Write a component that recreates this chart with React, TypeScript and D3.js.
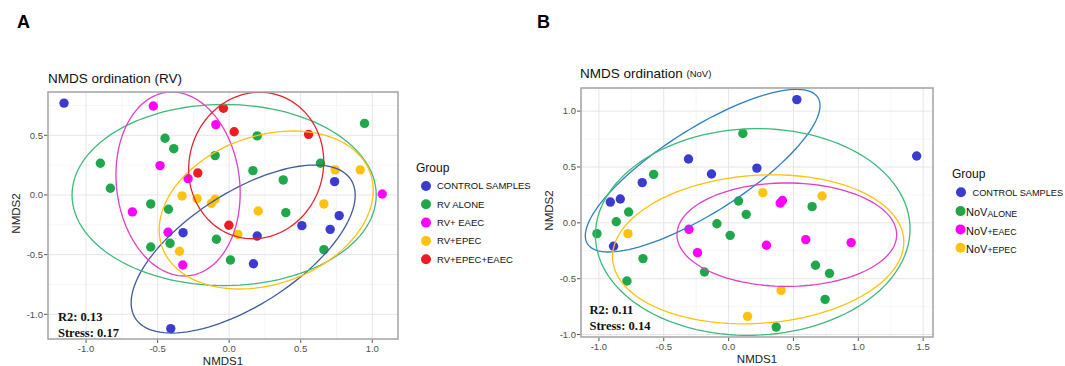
import { useEffect, useRef } from "react";
import * as d3 from "d3";

// groups and colours
const rvGroups = ["CONTROL SAMPLES", "RV ALONE", "RV+ EAEC", "RV+EPEC", "RV+EPEC+EAEC"];
const rvColors = ["#3B3BD0", "#1FA84B", "#FF00FF", "#FFC20E", "#EC1C24"];
const rvEllipseColors = ["#3E5B9C", "#3DBA7A", "#E23FC7", "#FFC20E", "#E3262E"];

const novGroups = [
    { main: "CONTROL SAMPLES", sub: "" },
    { main: "NoV", sub: "ALONE" },
    { main: "NoV", sub: "+EAEC" },
    { main: "NoV", sub: "+EPEC" },
];
const novColors = ["#3B3BD0", "#1FA84B", "#FF00FF", "#FFC20E"];
const novEllipseColors = ["#2A80C2", "#3DBA7A", "#E23FC7", "#FFC20E"];

// [NMDS1, NMDS2, group]
const rvPoints: [number, number, number][] = [
    [-1.154, 0.77, 0], [0.737, 0.112, 0], [0.769, -0.173, 0], [0.508, -0.257, 0], [0.706, -0.288, 0],
    [0.196, -0.344, 0], [-0.322, -0.316, 0], [0.17, -0.576, 0], [-0.408, -1.12, 0],
    [0.196, 0.495, 1], [0.946, 0.6, 1], [-0.448, 0.475, 1], [-0.387, 0.388, 1], [-0.9, 0.266, 1],
    [-0.098, 0.33, 1], [0.166, 0.204, 1], [0.378, 0.126, 1], [0.638, 0.266, 1], [-0.83, 0.056, 1],
    [-0.548, -0.075, 1], [-0.424, -0.12, 1], [0.396, -0.148, 1], [-0.089, -0.371, 1], [-0.413, -0.405, 1],
    [-0.548, -0.436, 1], [0.009, -0.545, 1], [0.662, -0.458, 1],
    [-0.53, 0.746, 2], [-0.093, 0.59, 2], [-0.483, 0.246, 2], [-0.287, 0.137, 2], [1.07, 0.008, 2],
    [-0.676, -0.142, 2], [-0.427, -0.313, 2], [-0.324, -0.587, 2],
    [0.741, 0.21, 3], [0.916, 0.21, 3], [-0.329, -0.008, 3], [-0.224, -0.031, 3], [-0.124, -0.07, 3],
    [-0.098, -0.036, 3], [0.203, -0.134, 3], [0.662, -0.075, 3], [0.061, -0.33, 3], [-0.347, -0.472, 3],
    [-0.04, 0.727, 4], [0.035, 0.53, 4], [0.555, 0.508, 4], [-0.219, 0.184, 4], [-0.002, -0.254, 4],
];

const novPoints: [number, number, number][] = [
    [0.526, 1.103, 0], [1.45, 0.598, 0], [-0.309, 0.571, 0], [-0.132, 0.437, 0], [0.218, 0.49, 0],
    [-0.666, 0.36, 0], [-0.912, 0.186, 0], [-0.835, 0.213, 0], [-0.887, -0.21, 0],
    [0.11, 0.8, 1], [-0.578, 0.434, 1], [-0.771, 0.097, 1], [-0.866, 0.01, 1], [0.644, 0.145, 1],
    [0.077, 0.195, 1], [0.136, 0.076, 1], [-0.09, -0.008, 1], [-1.015, -0.097, 1], [-0.66, -0.32, 1],
    [-0.784, -0.521, 1], [-0.186, -0.44, 1], [0.012, -0.112, 1], [0.67, -0.38, 1], [0.778, -0.452, 1],
    [0.744, -0.685, 1], [0.367, -0.933, 1],
    [0.398, 0.177, 2], [0.415, 0.2, 2], [-0.306, -0.058, 2], [-0.24, -0.267, 2], [0.292, -0.201, 2],
    [0.595, -0.15, 2], [0.945, -0.177, 2],
    [0.264, 0.27, 3], [0.721, 0.24, 3], [-0.776, -0.097, 3], [0.405, -0.604, 3], [0.146, -0.837, 3],
];

// ellipses: [centre x, centre y, half width, half height, correlation]
const rvEllipses: [number, number, number, number, number][] = [
    [0.098, -0.453, 0.783, 0.704, 0.64],
    [-0.035, 0.0, 1.063, 0.759, 0],
    [-0.357, 0.092, 0.434, 0.771, -0.1],
    [0.259, -0.126, 0.748, 0.662, 0.25],
    [0.189, 0.247, 0.472, 0.614, 0.05],
];
const novEllipses: [number, number, number, number, number][] = [
    [-0.2, 0.467, 0.905, 0.728, 0.8],
    [0.186, -0.082, 1.213, 0.925, 0.03],
    [0.449, -0.106, 0.847, 0.463, 0],
    [0.228, -0.237, 1.123, 0.667, 0.1],
];

const rvXTicks = [-1.0, -0.5, 0.0, 0.5, 1.0];
const rvYTicks = [-1.0, -0.5, 0.0, 0.5];
const novXTicks = [-1.0, -0.5, 0.0, 0.5, 1.0, 1.5];
const novYTicks = [-1.0, -0.5, 0.0, 0.5, 1.0];

const SANS = "Liberation Sans, Arial, sans-serif";
const SERIF = "Liberation Serif, Times New Roman, serif";

function minorTicks(major, domain) {
    const step = major[1] - major[0];
    const out = [];
    for (let v = major[0] - step / 2; v <= major[major.length - 1] + step / 2 + 1e-9; v += step) {
        if (v > domain[0] && v < domain[1]) out.push(v);
    }
    return out;
}

function drawPanel(svg, opt) {
    const { box, xDomain, yDomain, xTicks, yTicks, points, ellipses, colors, ellipseColors } = opt;

    const x = d3.scaleLinear().domain(xDomain).range([box.left, box.left + box.width]);
    const y = d3.scaleLinear().domain(yDomain).range([box.top + box.height, box.top]);

    const g = svg.append("g");
    const clipId = `clip-${opt.id}`;
    g.append("clipPath").attr("id", clipId)
        .append("rect")
        .attr("x", box.left).attr("y", box.top)
        .attr("width", box.width).attr("height", box.height);

    g.append("rect")
        .attr("x", box.left).attr("y", box.top)
        .attr("width", box.width).attr("height", box.height)
        .attr("fill", "#fff");

    // grid
    const grid = g.append("g");
    minorTicks(xTicks, xDomain).forEach((v) => {
        grid.append("line").attr("x1", x(v)).attr("x2", x(v))
            .attr("y1", box.top).attr("y2", box.top + box.height)
            .attr("stroke", "#F4F4F4").attr("stroke-width", 0.8);
    });
    minorTicks(yTicks, yDomain).forEach((v) => {
        grid.append("line").attr("y1", y(v)).attr("y2", y(v))
            .attr("x1", box.left).attr("x2", box.left + box.width)
            .attr("stroke", "#F4F4F4").attr("stroke-width", 0.8);
    });
    xTicks.forEach((v) => {
        grid.append("line").attr("x1", x(v)).attr("x2", x(v))
            .attr("y1", box.top).attr("y2", box.top + box.height)
            .attr("stroke", "#E6E6E6").attr("stroke-width", 1);
    });
    yTicks.forEach((v) => {
        grid.append("line").attr("y1", y(v)).attr("y2", y(v))
            .attr("x1", box.left).attr("x2", box.left + box.width)
            .attr("stroke", "#E6E6E6").attr("stroke-width", 1);
    });

    const inner = g.append("g").attr("clip-path", `url(#${clipId})`);

    // points
    inner.selectAll("circle.pt")
        .data(points)
        .enter()
        .append("circle")
        .attr("class", "pt")
        .attr("cx", (d) => x(d[0]))
        .attr("cy", (d) => y(d[1]))
        .attr("r", 4.7)
        .attr("fill", (d) => colors[d[2]]);

    // ellipses
    const line = d3.line().x((d) => x(d[0])).y((d) => y(d[1])).curve(d3.curveLinearClosed);
    ellipses.forEach((e, i) => {
        const [cx, cy, ex, ey, r] = e;
        const pts = d3.range(0, 120).map((k) => {
            const t = (k / 120) * Math.PI * 2;
            return [cx + ex * Math.cos(t), cy + ey * (r * Math.cos(t) + Math.sqrt(1 - r * r) * Math.sin(t))];
        });
        inner.append("path")
            .attr("d", line(pts))
            .attr("fill", "none")
            .attr("stroke", ellipseColors[i])
            .attr("stroke-width", 1.3);
    });

    // border
    g.append("rect")
        .attr("x", box.left).attr("y", box.top)
        .attr("width", box.width).attr("height", box.height)
        .attr("fill", "none").attr("stroke", "#A3A3A3").attr("stroke-width", 1.5);

    // axes
    xTicks.forEach((v) => {
        g.append("line").attr("x1", x(v)).attr("x2", x(v))
            .attr("y1", box.top + box.height + 0.75).attr("y2", box.top + box.height + 4)
            .attr("stroke", "#555").attr("stroke-width", 1);
        g.append("text").attr("x", x(v)).attr("y", box.top + box.height + 13)
            .attr("text-anchor", "middle").attr("font-family", SANS).attr("font-size", 9.5)
            .attr("fill", "#4D4D4D").text(v.toFixed(1));
    });
    yTicks.forEach((v) => {
        g.append("line").attr("x1", box.left - 4).attr("x2", box.left - 0.75)
            .attr("y1", y(v)).attr("y2", y(v))
            .attr("stroke", "#555").attr("stroke-width", 1);
        g.append("text").attr("x", box.left - 5).attr("y", y(v)).attr("dy", "0.35em")
            .attr("text-anchor", "end").attr("font-family", SANS).attr("font-size", 9.5)
            .attr("fill", "#4D4D4D").text(v.toFixed(1));
    });

    g.append("text")
        .attr("x", box.left + box.width / 2).attr("y", box.top + box.height + 26)
        .attr("text-anchor", "middle").attr("font-family", SANS).attr("font-size", 11.5)
        .attr("fill", "#222").text("NMDS1");
    g.append("text")
        .attr("transform", `translate(${box.left - 28}, ${box.top + box.height / 2 - 2}) rotate(-90)`)
        .attr("text-anchor", "middle").attr("font-family", SANS).attr("font-size", 11.5)
        .attr("fill", "#222").text("NMDS2");

    // stats
    g.append("text").attr("x", box.left + opt.statsDx).attr("y", box.top + box.height - opt.r2Up)
        .attr("font-family", SERIF).attr("font-weight", "bold").attr("font-size", 12.5)
        .attr("fill", "#111").text(opt.r2);
    g.append("text").attr("x", box.left + opt.statsDx).attr("y", box.top + box.height - opt.stressUp)
        .attr("font-family", SERIF).attr("font-weight", "bold").attr("font-size", 12.5)
        .attr("fill", "#111").text(opt.stress);
}

function App() {
    const ref = useRef(null);

    useEffect(() => {
        const svg = d3.select(ref.current);
        svg.selectAll("*").remove();

        svg.append("rect").attr("width", 1065).attr("height", 366).attr("fill", "#fff");

        // panel letters
        svg.append("text").attr("x", 17).attr("y", 28).attr("font-family", SANS)
            .attr("font-weight", "bold").attr("font-size", 18).text("A");
        svg.append("text").attr("x", 537).attr("y", 28).attr("font-family", SANS)
            .attr("font-weight", "bold").attr("font-size", 18).text("B");

        // titles
        svg.append("text").attr("x", 48).attr("y", 83).attr("font-family", SANS)
            .attr("font-size", 13.5).attr("fill", "#111").text("NMDS ordination (RV)");
        const tB = svg.append("text").attr("x", 580).attr("y", 78).attr("font-family", SANS)
            .attr("fill", "#111");
        tB.append("tspan").attr("font-size", 13.5).text("NMDS ordination ");
        tB.append("tspan").attr("font-size", 9.5).attr("dy", -1.5).text("(NoV)");

        drawPanel(svg, {
            id: "rv",
            box: { left: 48, top: 92, width: 350, height: 247 },
            xDomain: [-1.266, 1.18],
            yDomain: [-1.207, 0.863],
            xTicks: rvXTicks,
            yTicks: rvYTicks,
            points: rvPoints,
            ellipses: rvEllipses,
            colors: rvColors,
            ellipseColors: rvEllipseColors,
            r2: "R2: 0.13",
            stress: "Stress: 0.17",
            statsDx: 10,
            r2Up: 18,
            stressUp: 2,
        });

        drawPanel(svg, {
            id: "nov",
            box: { left: 581, top: 88, width: 352, height: 249 },
            xDomain: [-1.138, 1.576],
            yDomain: [-1.022, 1.207],
            xTicks: novXTicks,
            yTicks: novYTicks,
            points: novPoints,
            ellipses: novEllipses,
            colors: novColors,
            ellipseColors: novEllipseColors,
            r2: "R2: 0.11",
            stress: "Stress: 0.14",
            statsDx: 8.5,
            r2Up: 23.5,
            stressUp: 7,
        });

        // legend A
        const lA = svg.append("g");
        lA.append("text").attr("x", 416).attr("y", 172).attr("font-family", SANS)
            .attr("font-size", 12).attr("fill", "#111").text("Group");
        rvGroups.forEach((name, i) => {
            const cy = 186 + i * 18.3;
            lA.append("circle").attr("cx", 426).attr("cy", cy).attr("r", 5).attr("fill", rvColors[i]);
            lA.append("text").attr("x", 437).attr("y", cy).attr("dy", "0.35em")
                .attr("font-family", SANS).attr("font-size", 9.5).attr("fill", "#111").text(name);
        });

        // legend B
        const lB = svg.append("g");
        lB.append("text").attr("x", 952).attr("y", 178).attr("font-family", SANS)
            .attr("font-size", 12).attr("fill", "#111").text("Group");
        novGroups.forEach((grp, i) => {
            const cy = 192.3 + i * 18.3;
            if (i === 0) {
                lB.append("circle").attr("cx", 961).attr("cy", cy).attr("r", 5).attr("fill", novColors[i]);
                lB.append("text").attr("x", 972.5).attr("y", cy).attr("dy", "0.35em")
                    .attr("font-family", SANS).attr("font-size", 9.2).attr("fill", "#111").text(grp.main);
            } else {
                lB.append("circle").attr("cx", 960.5).attr("cy", cy + 0.5).attr("r", 5).attr("fill", novColors[i]);
                const t = lB.append("text").attr("x", 966).attr("y", cy).attr("dy", "0.35em")
                    .attr("font-family", SANS).attr("fill", "#111");
                t.append("tspan").attr("font-size", 11).text(grp.main);
                t.append("tspan").attr("font-size", 8.8).attr("dy", 0.5).text(grp.sub);
            }
        });
    }, []);

    return (
        <svg
            ref={ref}
            width={1065}
            height={366}
            style={{ position: "absolute", left: 0, top: 0, display: "block" }}
        />
    );
}

export default App;
